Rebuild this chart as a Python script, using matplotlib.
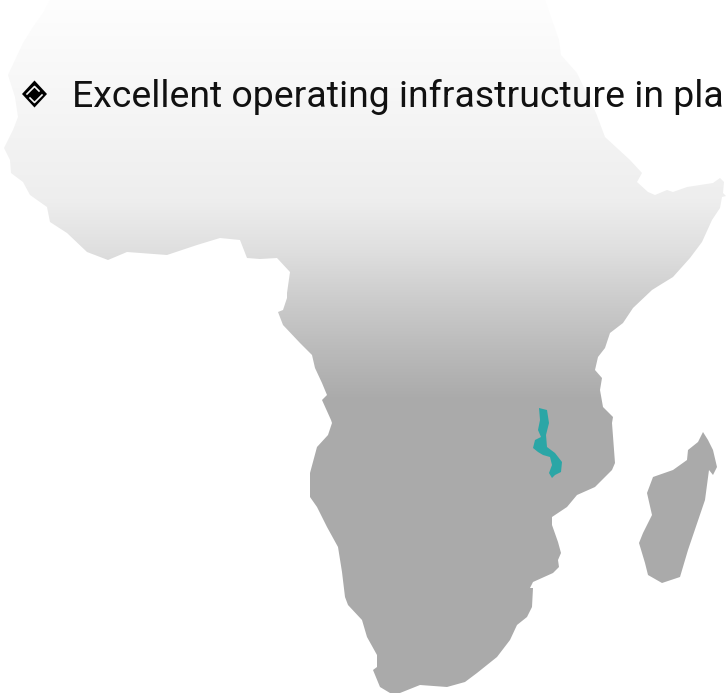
import matplotlib
matplotlib.use("Agg")
import matplotlib.pyplot as plt
import numpy as np
from matplotlib.colors import LinearSegmentedColormap
from matplotlib.patches import Polygon

# outlines are traced in pixels of the reference, y pointing down
continent_x = [50, 43, 33, 23, 15, 8, 15, 18, 13, 4, 10, 11, 23, 30, 47, 50, 67, 87, 108, 127, 167, 197, 220, 240, 247, 260,
               277, 290, 287, 287, 283, 278, 283, 300, 312, 315, 322, 327, 322, 331, 332, 328, 317, 310, 310, 317, 327, 338,
               342, 345, 348, 362, 367, 377, 377, 373, 380, 390, 400, 420, 447, 465, 477, 497, 510, 517, 527, 532, 533, 530,
               533, 553, 559, 558, 561, 558, 552, 552, 567, 577, 595, 612, 615, 612, 613, 603, 600, 602, 595, 598, 605, 610,
               623, 633, 652, 660, 673, 690, 702, 712, 720, 722, 726, 723, 724, 720, 713, 687, 673, 667, 655, 648, 637, 642,
               630, 605, 596, 577, 561, 559, 545]
continent_y = [0, 13, 27, 43, 60, 75, 97, 117, 130, 148, 160, 173, 182, 195, 207, 222, 233, 252, 260, 252, 255, 245, 238, 240, 258, 259,
               258, 272, 293, 298, 310, 312, 325, 343, 355, 368, 383, 395, 400, 420, 423, 435, 447, 473, 497, 507, 527, 547,
               572, 597, 605, 620, 637, 655, 667, 670, 687, 693, 693, 685, 687, 682, 673, 657, 640, 625, 617, 607, 588, 588,
               582, 573, 567, 560, 553, 542, 525, 517, 507, 495, 487, 470, 463, 423, 417, 407, 390, 378, 370, 357, 348, 333,
               323, 308, 290, 285, 277, 258, 242, 220, 208, 197, 196, 193, 182, 178, 183, 187, 192, 190, 195, 192, 182, 173,
               160, 137, 113, 73, 55, 40, 0]
madagascar_x = [703, 698, 688, 687, 673, 653, 647, 652, 643, 639, 645, 648, 662, 680, 688, 705, 709, 713, 717, 713, 708]
madagascar_y = [432, 442, 450, 460, 470, 477, 493, 515, 533, 543, 563, 575, 583, 577, 550, 500, 470, 475, 467, 450, 440]
malawi_x = [539, 547, 549, 546, 547, 555, 562, 561, 555, 552, 549, 552, 550, 543, 538, 533, 535, 541, 538, 540]
malawi_y = [408, 410, 423, 435, 447, 453, 462, 472, 475, 478, 473, 465, 457, 455, 452, 448, 440, 437, 430, 420]

# grey level of the fill, top to bottom
gradient_y = [0, 100, 200, 250, 300, 350, 400, 698]
gradient_grey = [0.995, 0.965, 0.933, 0.875, 0.80, 0.73, 0.667, 0.667]

icon_x = [34.5, 47, 34.5, 22]
icon_y = [80.5, 94, 107.5, 94]
icon_upper_gap_x = [27, 34.5, 39]
icon_upper_gap_y = [94, 86.5, 91]
icon_lower_gap_x = [30, 34.5, 42]
icon_lower_gap_y = [98, 102.5, 95]

label = "Excellent operating infrastructure in pla"

fig = plt.figure(figsize=(7.28, 6.98), dpi=100)
ax = fig.add_axes([0, 0, 1, 1])
ax.set_xlim(0, 728)
ax.set_ylim(698, 0)
ax.axis("off")

# Vertical grey gradient clipped to the continent
stops = [(y / 698, (g, g, g)) for y, g in zip(gradient_y, gradient_grey)]
cmap = LinearSegmentedColormap.from_list("fade", stops, N=698)
img = ax.imshow(np.arange(698).reshape(-1, 1), cmap=cmap, extent=(0, 728, 698, 0), aspect="auto", zorder=1)
land = Polygon(np.c_[continent_x, continent_y], closed=True, transform=ax.transData, fc="none", ec="none")
ax.add_patch(land)
img.set_clip_path(land)

ax.add_patch(Polygon(np.c_[madagascar_x, madagascar_y], closed=True, fc="#aaaaaa", ec="none", zorder=2))
ax.add_patch(Polygon(np.c_[malawi_x, malawi_y], closed=True, fc="#2ba6a6", ec="none", zorder=3))

ax.add_patch(Polygon(np.c_[icon_x, icon_y], closed=True, fc="black", ec="none", zorder=4))
ax.plot(icon_upper_gap_x, icon_upper_gap_y, color="#f6f6f6", lw=1.2, zorder=5)
ax.plot(icon_lower_gap_x, icon_lower_gap_y, color="#f6f6f6", lw=1.2, zorder=5)

ax.text(72, 107, label, family="Roboto", fontsize=26.9, color="#111111", va="baseline", ha="left", zorder=6)

fig.savefig("out.png", dpi=100)
